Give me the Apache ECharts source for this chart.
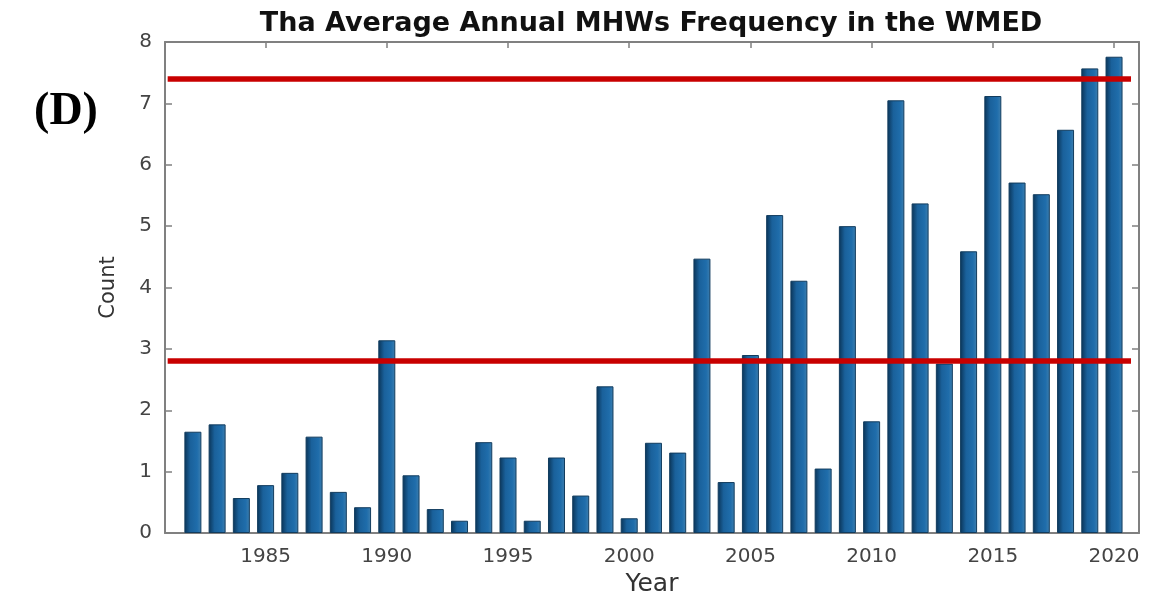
<!DOCTYPE html>
<html>
<head>
<meta charset="utf-8">
<title>MHWs Frequency WMED</title>
<script src="https://cdn.jsdelivr.net/npm/echarts@6/dist/echarts.min.js"></script>
<style>
  html, body { margin: 0; padding: 0; background: #fff; }
  #draw { width: 1166px; height: 602px; }
</style>
</head>
<body>
<div id="draw"></div>
<script>
// data
var years = [1982, 1983, 1984, 1985, 1986, 1987, 1988, 1989, 1990, 1991,
	1992, 1993, 1994, 1995, 1996, 1997, 1998, 1999, 2000, 2001,
	2002, 2003, 2004, 2005, 2006, 2007, 2008, 2009, 2010, 2011,
	2012, 2013, 2014, 2015, 2016, 2017, 2018, 2019, 2020];
var counts = [1.65, 1.77, 0.57, 0.78, 0.98, 1.57, 0.67, 0.42, 3.14, 0.94,
	0.39, 0.20, 1.48, 1.23, 0.20, 1.23, 0.61, 2.39, 0.24, 1.47,
	1.31, 4.47, 0.83, 2.90, 5.18, 4.11, 1.05, 5.00, 1.82, 7.05,
	5.37, 2.76, 4.59, 7.12, 5.71, 5.52, 6.57, 7.57, 7.76];
var yearTicks = [1985, 1990, 1995, 2000, 2005, 2010, 2015, 2020];
var thresholds = [7.4, 2.8];
var thresholdFrom = 1980.96;
var thresholdTo = 2020.7;

var xMin = 1980.85, xMax = 2021.03;

var myChart = echarts.init(document.getElementById('draw'));

var axisGray = '#808080';
var labelFont = 'DejaVu Sans';

var barData = years.map(function(y, i) {
	return [y, counts[i]];
});

var markData = thresholds.map(function(v) {
	return [ { coord : [ thresholdFrom, v ] }, { coord : [ thresholdTo, v ] } ];
});

var option = {
	backgroundColor : '#ffffff',
	animation : false,
	graphic : [ {
		type : 'text',
		x : 651,
		y : 24,
		style : {
			text : 'Tha Average Annual MHWs Frequency in the WMED',
			font : 'bold 27px "DejaVu Sans"',
			fill : '#111111',
			textAlign : 'center',
			textVerticalAlign : 'middle'
		}
	}, {
		type : 'text',
		x : 66,
		y : 112,
		style : {
			text : '(D)',
			font : 'bold 46px "Liberation Serif"',
			fill : '#000000',
			textAlign : 'center',
			textVerticalAlign : 'middle'
		}
	} ],
	grid : {
		left : 165,
		right : 27,
		top : 42,
		bottom : 64
	},
	xAxis : [ {
		type : 'value',
		min : xMin,
		max : xMax,
		position : 'bottom',
		name : 'Year',
		nameLocation : 'middle',
		nameGap : 39,
		nameTextStyle : {
			fontFamily : labelFont,
			fontSize : 25,
			color : '#333333'
		},
		splitLine : { show : false },
		axisLine : { lineStyle : { color : axisGray, width : 2 } },
		axisTick : {
			inside : true,
			length : 6,
			customValues : yearTicks,
			lineStyle : { color : axisGray, width : 1.5 }
		},
		axisLabel : {
			customValues : yearTicks,
			margin : 14,
			fontFamily : labelFont,
			fontSize : 20,
			color : '#444444',
			formatter : function(v) { return String(v); }
		}
	}, {
		type : 'value',
		min : xMin,
		max : xMax,
		position : 'top',
		splitLine : { show : false },
		axisLine : { onZero : false, lineStyle : { color : axisGray, width : 2 } },
		axisTick : {
			inside : true,
			length : 6,
			customValues : yearTicks,
			lineStyle : { color : axisGray, width : 1.5 }
		},
		axisLabel : { show : false }
	} ],
	yAxis : [ {
		type : 'value',
		min : 0,
		max : 8,
		interval : 1,
		position : 'left',
		name : 'Count',
		nameLocation : 'middle',
		nameGap : 46,
		nameTextStyle : {
			fontFamily : labelFont,
			fontSize : 21,
			color : '#333333'
		},
		splitLine : { show : false },
		axisLine : { show : true, lineStyle : { color : axisGray, width : 2 } },
		axisTick : {
			show : true,
			inside : true,
			length : 7,
			lineStyle : { color : axisGray, width : 1.5 }
		},
		axisLabel : {
			margin : 13,
			fontFamily : labelFont,
			fontSize : 20,
			color : '#444444'
		}
	}, {
		type : 'value',
		min : 0,
		max : 8,
		interval : 1,
		position : 'right',
		splitLine : { show : false },
		axisLine : { show : true, onZero : false, lineStyle : { color : axisGray, width : 2 } },
		axisTick : {
			show : true,
			inside : true,
			length : 7,
			lineStyle : { color : axisGray, width : 1.5 }
		},
		axisLabel : { show : false }
	} ],
	series : [ {
		name : 'Count',
		type : 'bar',
		xAxisIndex : 0,
		yAxisIndex : 0,
		barWidth : 17,
		data : barData,
		itemStyle : {
			color : new echarts.graphic.LinearGradient(0, 0, 1, 0, [
				{ offset : 0, color : '#0a3457' },
				{ offset : 0.35, color : '#1a619b' },
				{ offset : 0.75, color : '#1f6dab' },
				{ offset : 1, color : '#3f7fae' }
			]),
			borderColor : '#123c5e',
			borderWidth : 1
		},
		markLine : {
			silent : true,
			symbol : [ 'none', 'none' ],
			label : { show : false },
			lineStyle : {
				type : 'solid',
				color : '#c80000',
				width : 5.5
			},
			data : markData
		}
	} ]
};

myChart.setOption(option);
</script>
</body>
</html>
